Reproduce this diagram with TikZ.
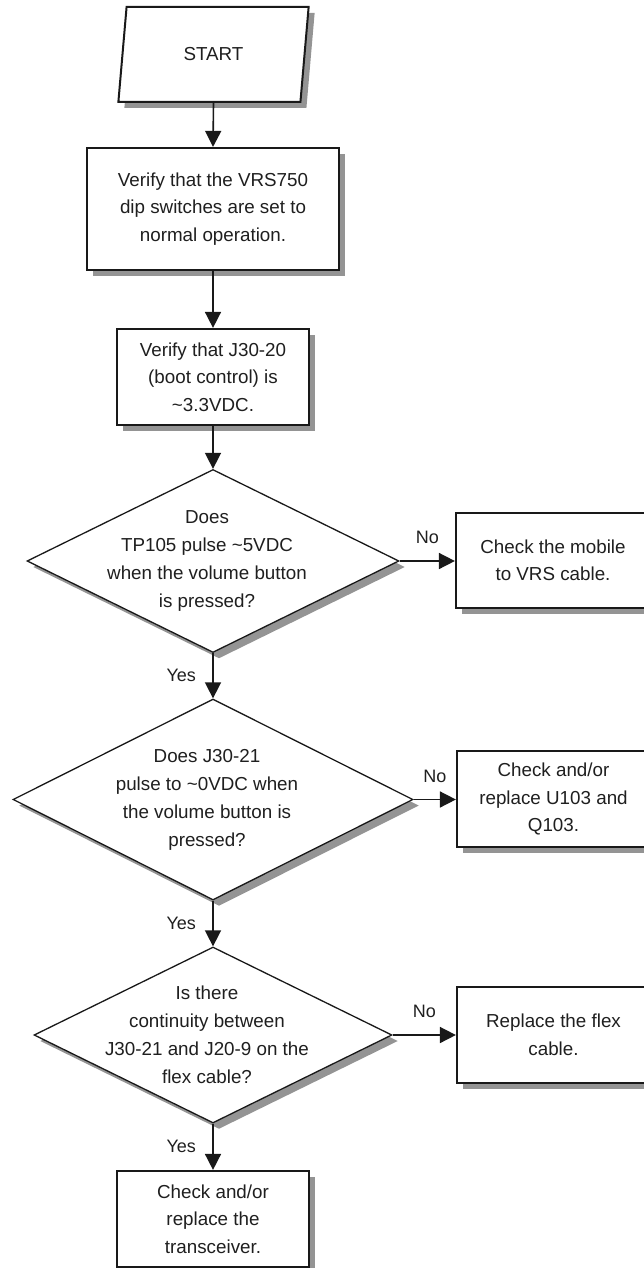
\documentclass[tikz,border=0pt]{standalone}
\usepackage{fontspec}
\setmainfont{Liberation Sans}
\usetikzlibrary{arrows.meta,shapes.geometric,shadows}

\begin{document}
\begin{tikzpicture}[x=1pt,y=-1pt,
  shadowed/.style={drop shadow={shadow xshift=6pt,shadow yshift=-6pt,fill=black!42,opacity=1}},
  box/.style={draw=black!90,line width=2.2pt,fill=white,shadowed,align=center,inner sep=0pt,
              text=black!88,font=\fontsize{18.8}{27.5}\selectfont},
  startbox/.style={trapezium,trapezium left angle=78,trapezium right angle=102,
              trapezium stretches=true,minimum width=191pt,minimum height=95pt,
              draw=black!90,line width=2pt,fill=white,shadowed,inner sep=0pt,
              text=black!88,font=\fontsize{18.8}{27.5}\selectfont},
  decision/.style={diamond,draw=black!90,line width=1.3pt,fill=white,shadowed,inner sep=0pt},
  qtext/.style={align=center,text=black!88,xshift=-6pt,font=\fontsize{18.8}{28}\selectfont},
  lbl/.style={text=black!88,font=\fontsize{18}{22}\selectfont},
  arr/.style={-{Triangle[length=16pt,width=16pt]},line width=1.6pt,black!90}]

  \useasboundingbox (0,0) rectangle (644,1268);

  \node[startbox] (start) at (213.5,54.5) {START};
  \node[box,minimum width=252pt,minimum height=122pt] (b1) at (213,209)
       {Verify that the VRS750\\dip switches are set to\\normal operation.};
  \node[box,minimum width=192pt,minimum height=96pt] (b2) at (213,377)
       {Verify that J30-20\\(boot control) is\\\textasciitilde3.3VDC.};

  \node[decision,minimum width=372pt,minimum height=183pt] (q1) at (213,561) {};
  \node[qtext] (q1t) at (q1) {Does\\TP105 pulse \textasciitilde5VDC\\when the volume button\\is pressed?};
  \node[box,minimum width=194pt,minimum height=95pt] (b3) at (553,560.5)
       {Check the mobile\\to VRS cable.};

  \node[decision,minimum width=400pt,minimum height=201pt] (q2) at (213,799.5) {};
  \node[qtext] (q2t) at (q2) {Does J30-21\\pulse to \textasciitilde0VDC when\\the volume button is\\pressed?};
  \node[box,minimum width=193pt,minimum height=96pt] (b4) at (553.5,799)
       {Check and/or\\replace U103 and\\Q103.};

  \node[decision,minimum width=358pt,minimum height=176pt] (q3) at (213,1035) {};
  \node[qtext] (q3t) at (q3) {Is there\\continuity between\\J30-21 and J20-9 on the\\flex cable?};
  \node[box,minimum width=193pt,minimum height=96pt] (b5) at (553.5,1035)
       {Replace the flex\\cable.};

  \node[box,minimum width=192pt,minimum height=96pt] (b6) at (213,1219)
       {Check and/or\\replace the\\transceiver.};

  \draw[arr] (start.south) -- (b1.north);
  \draw[arr] (b1.south) -- (b2.north);
  \draw[arr] (b2.south) -- (q1.north);
  \draw[arr] (q1.east) -- node[lbl,above=13pt] (no1) {No} (b3.west |- q1.east);
  \draw[arr] (q1.south) -- node[lbl,left=13pt] (yes1) {Yes} (q2.north);
  \draw[arr] (q2.east) -- node[lbl,above=13pt] (no2) {No} (b4.west |- q2.east);
  \draw[arr] (q2.south) -- node[lbl,left=13pt] (yes2) {Yes} (q3.north);
  \draw[arr] (q3.east) -- node[lbl,above=13pt] (no3) {No} (b5.west |- q3.east);
  \draw[arr] (q3.south) -- node[lbl,left=13pt] (yes3) {Yes} (b6.north);

\end{tikzpicture}
\end{document}
